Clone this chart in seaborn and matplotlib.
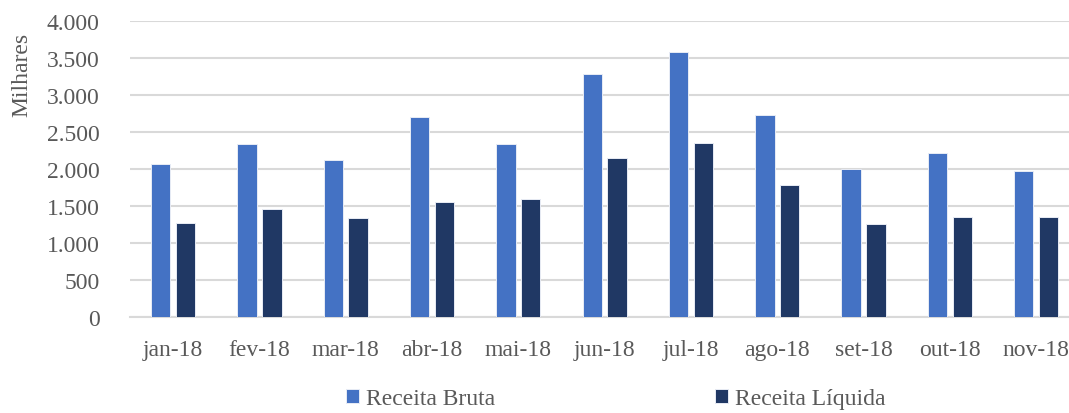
import seaborn as sns
import matplotlib.pyplot as plt
import matplotlib.ticker as mticker
import numpy as np
import pandas as pd

# Monthly revenue (thousands)
months = ["jan-18", "fev-18", "mar-18", "abr-18", "mai-18", "jun-18",
          "jul-18", "ago-18", "set-18", "out-18", "nov-18"]
receita_bruta = [2065, 2330, 2118, 2694, 2333, 3280, 3572, 2726, 1993, 2208, 1966]
receita_liquida = [1270, 1455, 1334, 1545, 1595, 2140, 2352, 1780, 1253, 1343, 1345]
series = ["Receita Bruta", "Receita Líquida"]

df = pd.DataFrame({
    "mes": months * 2,
    "valor": receita_bruta + receita_liquida,
    "serie": [series[0]] * len(months) + [series[1]] * len(months),
})

sns.set_theme(style="white")
plt.rcParams['font.family'] = ['Liberation Serif', 'DejaVu Serif']
text_color = "#595959"
grid_color = "#D9D9D9"
fs = 17

fig = plt.figure(figsize=(10.69, 4.14), dpi=100)
ax = fig.add_axes([130 / 1069, 96.3 / 414, 949.3 / 1069, 296 / 414])

sns.barplot(data=df, x="mes", y="valor", hue="serie", order=months,
            palette=["#4472C4", "#203864"], saturation=1, width=0.575, gap=0.22,
            edgecolor="#E8ECF5", linewidth=0.7, ax=ax, zorder=3)

ax.set_ylim(0, 4000)
ax.set_xlim(-0.5, len(months) - 0.5)
ax.yaxis.set_major_locator(mticker.MultipleLocator(500))
ax.yaxis.set_major_formatter(mticker.FuncFormatter(lambda v, p: f"{v:,.0f}".replace(",", ".")))
ax.grid(axis="y", color=grid_color, linewidth=1.5, zorder=0)
ax.set_axisbelow(True)

for s in ["left", "top", "right"]:
    ax.spines[s].set_visible(False)
ax.spines["bottom"].set_color(grid_color)
ax.spines["bottom"].set_linewidth(1.5)

ax.set_xticks(np.arange(-0.5, len(months), 1), minor=True)
ax.tick_params(axis="x", which="major", length=0, pad=16, labelsize=fs, labelcolor=text_color)
ax.tick_params(axis="x", which="minor", length=7, width=1.5, color=grid_color)
ax.tick_params(axis="y", length=0, pad=22, labelsize=fs, labelcolor=text_color)
ax.set_xlabel("")
ax.set_ylabel("")

fig.text(22 / 1069, (414 - 74.5) / 414, "Milhares", rotation=90, ha="center", va="center",
         fontsize=fs, color=text_color)

handles, labels = ax.get_legend_handles_labels()
ax.legend(handles, labels, loc="center", bbox_to_anchor=(0.512, -0.278), ncol=2,
          frameon=False, fontsize=fs, labelcolor=text_color, handlelength=0.55,
          handleheight=0.55, handletextpad=0.3, columnspacing=9.3)

plt.savefig("out.png", dpi=100)
